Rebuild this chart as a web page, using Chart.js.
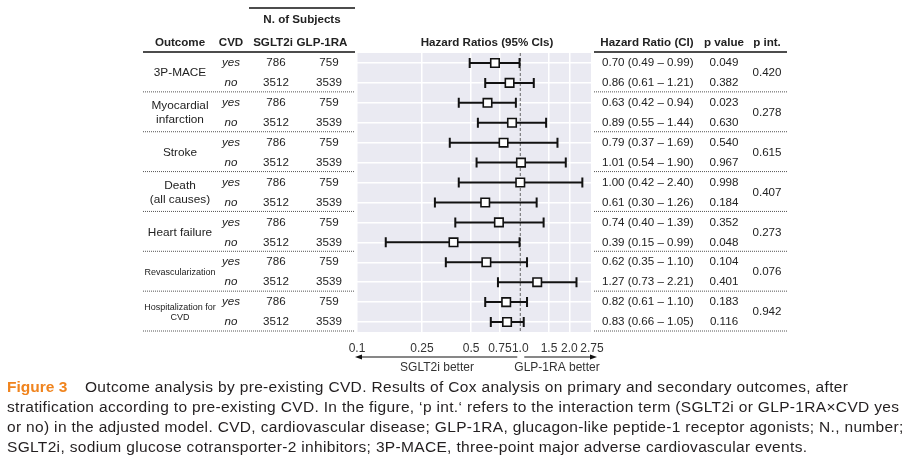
<!DOCTYPE html>
<html>
<head>
<meta charset="utf-8">
<script src="https://cdn.jsdelivr.net/npm/chart.js@4.4.1/dist/chart.umd.min.js"></script>
<style>
  html, body { margin: 0; padding: 0; background: #fff; }
  #wrap { position: relative; width: 916px; height: 463px; overflow: hidden; }
  #myChart { position: absolute; left: 0; top: 0; }
  #cap { position: absolute; left: 7px; top: 377px; font: 15.5px "Liberation Sans", Arial, sans-serif;
         color: #231f20; line-height: 19.9px; white-space: nowrap; letter-spacing: 0.33px; }
  #cap b { color: #f0841e; margin-right: 13px; letter-spacing: 0; }
</style>
</head>
<body>
<div id="wrap">
  <canvas id="myChart" width="916" height="463"></canvas>
  <div id="cap">
    <div><b>Figure 3</b> Outcome analysis by pre-existing CVD. Results of Cox analysis on primary and secondary outcomes, after</div>
    <div>stratification according to pre-existing CVD. In the figure, ‘p int.‘ refers to the interaction term (SGLT2i or GLP-1RA×CVD yes</div>
    <div>or no) in the adjusted model. CVD, cardiovascular disease; GLP-1RA, glucagon-like peptide-1 receptor agonists; N., number;</div>
    <div>SGLT2i, sodium glucose cotransporter-2 inhibitors; 3P-MACE, three-point major adverse cardiovascular events.</div>
  </div>
</div>
<script>
// outcomes (one per group of two rows)
const outcomes = [['3P-MACE'], ['Myocardial', 'infarction'], ['Stroke'], ['Death', '(all causes)'],
  ['Heart failure'], ['Revascularization'], ['Hospitalization for', 'CVD']];
const cvd = ['yes', 'no'];
const nSglt2 = [786, 3512, 786, 3512, 786, 3512, 786, 3512, 786, 3512, 786, 3512, 786, 3512];
const nGlp1 = [759, 3539, 759, 3539, 759, 3539, 759, 3539, 759, 3539, 759, 3539, 759, 3539];
const hr = [0.70, 0.86, 0.63, 0.89, 0.79, 1.01, 1.00, 0.61, 0.74, 0.39, 0.62, 1.27, 0.82, 0.83];
const ciLow = [0.49, 0.61, 0.42, 0.55, 0.37, 0.54, 0.42, 0.30, 0.40, 0.15, 0.35, 0.73, 0.61, 0.66];
const ciHigh = [0.99, 1.21, 0.94, 1.44, 1.69, 1.90, 2.40, 1.26, 1.39, 0.99, 1.10, 2.21, 1.10, 1.05];
const pValue = ['0.049', '0.382', '0.023', '0.630', '0.540', '0.967', '0.998', '0.184', '0.352', '0.048', '0.104', '0.401', '0.183', '0.116'];
const pInt = ['0.420', '0.278', '0.615', '0.407', '0.273', '0.076', '0.942'];
const xTicks = [0.1, 0.25, 0.5, 0.75, 1.0, 1.5, 2.0, 2.75];
const xTickLabels = ['0.1', '0.25', '0.5', '0.75', '1.0', '1.5', '2.0', '2.75'];

const FONT = '"Liberation Sans", Arial, sans-serif';
const TXT = '#222';

function fmt(v) { return v.toFixed(2); }

// fondo gris del área
const bgPlugin = {
  id: 'bg',
  beforeDraw(chart) {
    const a = chart.chartArea, c = chart.ctx;
    c.save();
    c.fillStyle = '#eaeaf2';
    c.fillRect(a.left, a.top, a.right - a.left, a.bottom - a.top);
    c.restore();
  }
};

// línea de referencia y barras de error
const whiskerPlugin = {
  id: 'whiskers',
  beforeDatasetsDraw(chart) {
    const c = chart.ctx, xs = chart.scales.x, ys = chart.scales.y, a = chart.chartArea;
    c.save();
    const x1 = xs.getPixelForValue(1);
    c.strokeStyle = '#666';
    c.lineWidth = 1;
    c.setLineDash([3, 2]);
    c.beginPath(); c.moveTo(x1, a.top); c.lineTo(x1, a.bottom); c.stroke();
    c.setLineDash([]);
    c.strokeStyle = '#111';
    c.lineWidth = 2;
    hr.forEach((v, i) => {
      const y = ys.getPixelForValue(i);
      const l = xs.getPixelForValue(ciLow[i]), h = xs.getPixelForValue(ciHigh[i]);
      c.beginPath();
      c.moveTo(l, y); c.lineTo(h, y);
      c.moveTo(l, y - 5); c.lineTo(l, y + 5);
      c.moveTo(h, y - 5); c.lineTo(h, y + 5);
      c.stroke();
    });
    c.restore();
  }
};

function hline(c, x0, x1, y, dotted, w) {
  c.save();
  c.strokeStyle = dotted ? '#555' : '#111';
  c.lineWidth = w || 1;
  if (dotted) c.setLineDash([1, 1]);
  c.beginPath(); c.moveTo(x0, y); c.lineTo(x1, y); c.stroke();
  c.restore();
}

// tablas izquierda / derecha, flechas
const tablePlugin = {
  id: 'tables',
  afterDraw(chart) {
    const c = chart.ctx, xs = chart.scales.x, ys = chart.scales.y;
    c.save();
    c.fillStyle = TXT;
    c.textBaseline = 'middle';
    c.textAlign = 'center';

    // cabeceras
    c.font = 'bold 11.6px ' + FONT;
    c.fillText('N. of Subjects', 302, 20);
    hline(c, 249, 355, 8, false, 1.5);
    c.fillText('Outcome', 180, 43);
    c.fillText('CVD', 231, 43);
    c.fillText('SGLT2i', 273, 43);
    c.fillText('GLP-1RA', 322, 43);
    c.fillText('Hazard Ratios (95% CIs)', 487, 43);
    c.fillText('Hazard Ratio (CI)', 647, 43);
    c.fillText('p value', 724, 43);
    c.fillText('p int.', 767, 43);
    hline(c, 143, 355, 52, false, 1.5);
    hline(c, 594, 787, 52, false, 1.5);

    // filas
    hr.forEach((v, i) => {
      const y = ys.getPixelForValue(i);
      c.textAlign = 'center';
      c.font = 'italic 11.6px ' + FONT;
      c.fillText(cvd[i % 2], 231, y);
      c.font = '11.6px ' + FONT;
      c.fillText(String(nSglt2[i]), 276, y);
      c.fillText(String(nGlp1[i]), 329, y);
      c.fillText(pValue[i], 724, y);
      c.textAlign = 'left';
      c.fillText(fmt(v) + ' (' + fmt(ciLow[i]) + ' \u2013 ' + fmt(ciHigh[i]) + ')', 602, y);
    });

    // grupos
    outcomes.forEach((lines, g) => {
      const yc = ys.getPixelForValue(g * 2 + 0.5);
      const small = g >= 5;
      c.font = (small ? '9px ' : '11.8px ') + FONT;
      c.textAlign = 'center';
      const lh = small ? 10 : 13.5;
      lines.forEach((t, k) => {
        c.fillText(t, 180, yc + (k - (lines.length - 1) / 2) * lh);
      });
      c.font = '11.6px ' + FONT;
      c.fillText(pInt[g], 767, yc);
      const ysep = ys.getPixelForValue(g * 2 + 1.45);
      hline(c, 143, 355, ysep, true);
      hline(c, 594, 787, ysep, true);
    });

    // flechas
    const yA = 357;
    const x1 = xs.getPixelForValue(1);
    const xL = xs.getPixelForValue(xTicks[0]) - 2;
    const xR = xs.getPixelForValue(xTicks[xTicks.length - 1]) + 5;
    c.strokeStyle = '#111';
    c.lineWidth = 1.2;
    c.beginPath();
    c.moveTo(x1 - 3, yA); c.lineTo(xL + 5, yA);
    c.moveTo(x1 + 4, yA); c.lineTo(xR - 5, yA);
    c.stroke();
    c.fillStyle = '#111';
    c.beginPath(); c.moveTo(xL, yA); c.lineTo(xL + 7, yA - 2.5); c.lineTo(xL + 7, yA + 2.5); c.fill();
    c.beginPath(); c.moveTo(xR, yA); c.lineTo(xR - 7, yA - 2.5); c.lineTo(xR - 7, yA + 2.5); c.fill();
    c.fillStyle = '#333';
    c.font = '12px ' + FONT;
    c.textAlign = 'center';
    c.fillText('SGLT2i better', 437, 368);
    c.fillText('GLP-1RA better', 557, 368);
    c.restore();
  }
};

const ctx = document.getElementById('myChart').getContext('2d');
const myChart = new Chart(ctx, {
  type: 'scatter',
  data: {
    datasets: [
      {
        label: 'HR',
        data: hr.map((v, i) => ({ x: v, y: i })),
        pointStyle: 'rect',
        pointRadius: 6,
        backgroundColor: '#ffffff',
        borderColor: '#111',
        borderWidth: 1.6,
      },
    ],
  },
  options: {
    responsive: false,
    animation: false,
    devicePixelRatio: 1,
    layout: { padding: { left: 357, right: 324, top: 53, bottom: 101 } },
    plugins: { legend: { display: false }, tooltip: { enabled: false } },
    scales: {
      x: {
        type: 'logarithmic',
        min: xTicks[0],
        max: xTicks[xTicks.length - 1],
        afterBuildTicks: (s) => { s.ticks = xTicks.map((v) => ({ value: v })); },
        afterFit: (s) => { s.height = 30; },
        ticks: {
          autoSkip: false,
          maxRotation: 0,
          padding: 9,
          color: '#333',
          font: { family: FONT, size: 12 },
          callback: (v, i) => xTickLabels[i],
        },
        grid: {
          drawTicks: false,
          lineWidth: 1.5,
          color: (c) => (c.tick && c.tick.value === 1 ? 'rgba(0,0,0,0)' : '#ffffff'),
        },
        border: { display: false },
      },
      y: {
        type: 'linear',
        min: -0.5,
        max: 13.5,
        reverse: true,
        afterBuildTicks: (s) => { s.ticks = hr.map((v, i) => ({ value: i })); },
        afterFit: (s) => { s.width = 0; },
        ticks: { display: false },
        grid: { drawTicks: false, color: '#ffffff', lineWidth: 1.5 },
        border: { display: false },
      },
    },
  },
  plugins: [bgPlugin, whiskerPlugin, tablePlugin],
});
</script>
</body>
</html>
